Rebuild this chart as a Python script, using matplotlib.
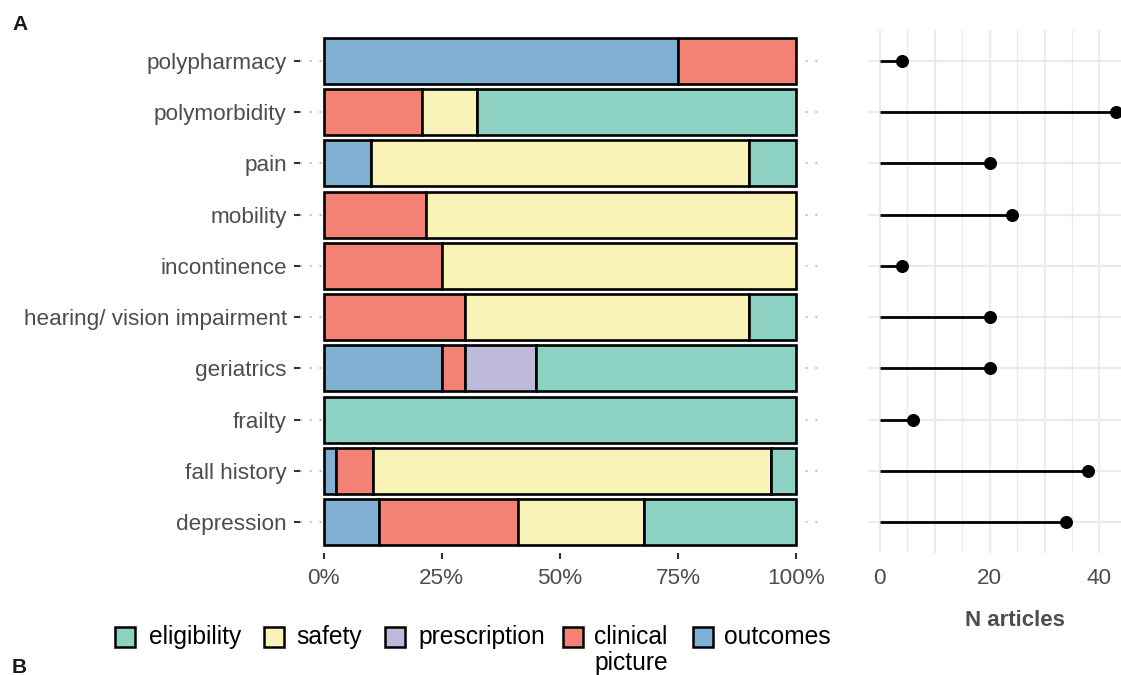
import matplotlib.pyplot as plt
from matplotlib.patches import Rectangle
import numpy as np

plt.rcParams['font.family'] = ['Liberation Sans', 'DejaVu Sans']

# data: share of articles (%) by category, plus article counts
topics = ['polypharmacy', 'polymorbidity', 'pain', 'mobility', 'incontinence',
          'hearing/ vision impairment', 'geriatrics', 'frailty',
          'fall history', 'depression']
outcomes = [75, 0, 10, 0, 0, 0, 25, 0, 2.6, 11.8]
clinical = [25, 20.9, 0, 21.7, 25, 30, 5, 0, 7.9, 29.4]
prescription = [0, 0, 0, 0, 0, 0, 15, 0, 0, 0]
safety = [0, 11.6, 80, 78.3, 75, 60, 0, 0, 84.2, 26.5]
eligibility = [0, 67.5, 10, 0, 0, 10, 55, 100, 5.3, 32.3]
n_articles = [4, 43, 20, 24, 4, 20, 20, 6, 38, 34]

series = [('outcomes', outcomes, '#80B1D3'),
          ('clinical\npicture', clinical, '#F38174'),
          ('prescription', prescription, '#BDB9D9'),
          ('safety', safety, '#F9F3B8'),
          ('eligibility', eligibility, '#8DD1C3')]
legend_order = ['eligibility', 'safety', 'prescription', 'clinical\npicture', 'outcomes']

W, H = 1121, 675
fig = plt.figure(figsize=(W / 100, H / 100), dpi=100)

def px_axes(x0, x1, y0, y1):
    return fig.add_axes([x0 / W, 1 - y1 / H, (x1 - x0) / W, (y1 - y0) / H])

grey = '#4D4D4D'
y = np.arange(len(topics))
ylim = (len(topics) - 0.4, -0.6)

# --- left panel: stacked shares ---
ax = px_axes(300, 820, 30, 553)
left = np.zeros(len(topics))
for name, vals, col in series:
    vals = np.array(vals) / 100
    keep = vals > 0
    ax.barh(y[keep], vals[keep], left=left[keep], height=0.9, color=col,
            edgecolor='black', linewidth=1.9, zorder=3)
    left += vals
for yy in y:
    ax.axhline(yy, color='#BDBDBD', lw=1.4, ls=(0, (1, 4)), zorder=1)
ax.set_xlim(-0.05, 1.05)
ax.set_ylim(*ylim)
ax.set_yticks(y)
ax.set_yticklabels(topics)
ax.set_xticks([0, 0.25, 0.5, 0.75, 1])
ax.set_xticklabels(['0%', '25%', '50%', '75%', '100%'])
ax.tick_params(axis='both', labelsize=16.2, labelcolor=grey, color='#333333',
               length=4, width=1.5)
ax.tick_params(axis='y', pad=5.5)
ax.tick_params(axis='x', pad=7)
for s in ax.spines.values():
    s.set_visible(False)

# --- right panel: lollipops ---
ax2 = px_axes(868, 1162, 30, 553)
for v in range(0, 51, 10):
    ax2.axvline(v, color='#EBEBEB', lw=1.6, zorder=0)
for v in range(5, 51, 10):
    ax2.axvline(v, color='#EBEBEB', lw=0.9, zorder=0)
for yy in y:
    ax2.axhline(yy, color='#EBEBEB', lw=1.6, zorder=0)
ax2.hlines(y, 0, n_articles, color='black', lw=2, zorder=2)
ax2.scatter(n_articles, y, s=70, color='black', zorder=3, clip_on=False)
ax2.set_xlim(-2.15, 51.4)
ax2.set_ylim(*ylim)
ax2.set_yticks([])
ax2.set_xticks([0, 20, 40])
ax2.tick_params(axis='x', labelsize=16.2, labelcolor=grey, length=0, pad=11)
ax2.set_xlabel('N articles', fontsize=16, fontweight='bold', color=grey,
               labelpad=15)
for s in ax2.spines.values():
    s.set_visible(False)

# --- legend drawn by hand ---
key_x = [115, 264, 385, 563, 693]
lab_x = [149, 296, 418, 594, 724]
colors = {name: col for name, _, col in series}
for name, kx, lx in zip(legend_order, key_x, lab_x):
    fig.patches.append(Rectangle((kx / W, 1 - 647 / H), 20 / W, 20 / H,
                                 transform=fig.transFigure, facecolor=colors[name],
                                 edgecolor='black', lw=1.8))
    for i, line in enumerate(name.split('\n')):
        fig.text(lx / W, 1 - (644 + 26 * i) / H, line, fontsize=17.7,
                 va='baseline', ha='left')

fig.text(12 / W, 1 - 30 / H, 'A', fontsize=15, fontweight='bold', va='baseline',
         color='#1A1A1A')
fig.text(12 / W, 1 - 673 / H, 'B', fontsize=15, fontweight='bold', va='baseline',
         color='#1A1A1A')

fig.savefig('out.png', dpi=100)
